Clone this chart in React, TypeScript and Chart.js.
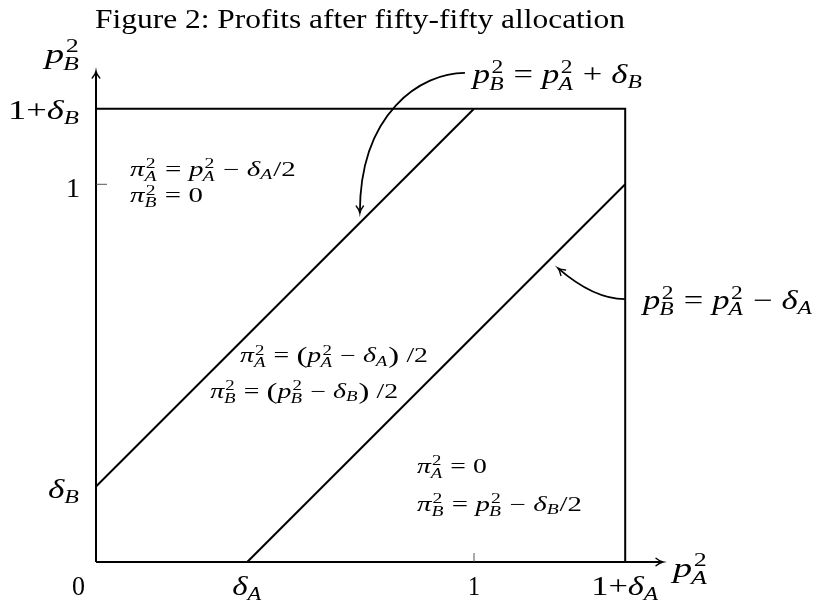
import React, { useEffect, useRef } from "react";
import { Chart, registerables } from "chart.js";

Chart.register(...registerables);

// ---------------- data ----------------
const chartTitle = "Figure 2: Profits after fifty-fifty allocation";
const xAxisMax = 1.5;
const yAxisMax = 1.3;
// p_B = p_A + delta_B  (delta_B = 0.2)
const upperLineX = [0, 1.0];
const upperLineY = [0.2, 1.2];
// p_B = p_A - delta_A  (delta_A = 0.4)
const lowerLineX = [0.4, 1.4];
const lowerLineY = [0, 1.0];
// feasible box: top edge at 1+delta_B, right edge at 1+delta_A
const boxX = [0, 1.4, 1.4];
const boxY = [1.2, 1.2, 0];
const xTickValues = [0, 0.4, 1, 1.4];
const xTickLabels = ["0", "\\delta_A", "1", "1+\\delta_A"];
const yTickValues = [0.2, 1, 1.2];
const yTickLabels = ["\\delta_B", "1", "1+\\delta_B"];
const tickMarkValues = [1];
const xAxisTitle = "p^2_A";
const yAxisTitle = "p^2_B";
const upperLineLabel = "p^2_B = p^2_A + \\delta_B";
const lowerLineLabel = "p^2_B = p^2_A - \\delta_A";
const regionTopLeft = ["\\pi^2_A = p^2_A - \\delta_A/2", "\\pi^2_B = 0"];
const regionMiddle = ["\\pi^2_A = (p^2_A - \\delta_A) /2", "\\pi^2_B = (p^2_B - \\delta_B) /2"];
const regionBottomRight = ["\\pi^2_A = 0", "\\pi^2_B = p^2_B - \\delta_B/2"];

// ---------------- text helpers ----------------
const FONT = '"Liberation Serif", "Times New Roman", serif';
const GREEK: Record<string, string> = { pi: "\u03c0", delta: "\u03b4" };

type Atom = { t: string; it: boolean; sup?: string; sub?: string; gap?: number; big?: boolean };

function parseMath(src: string): Atom[] {
  const out: Atom[] = [];
  let i = 0;
  const readCmd = (): string => {
    let j = i + 1;
    while (j < src.length && /[a-zA-Z]/.test(src[j])) j++;
    const name = src.slice(i + 1, j);
    i = j;
    return GREEK[name] ?? name;
  };
  const readArg = (): string => {
    if (src[i] === "{") {
      const j = src.indexOf("}", i);
      const s = src.slice(i + 1, j);
      i = j + 1;
      return s;
    }
    if (src[i] === "\\") return readCmd();
    return src[i++];
  };
  while (i < src.length) {
    const c = src[i];
    if (c === " ") {
      out.push({ t: "", it: false, gap: 0.26 });
      i++;
    } else if (c === "^" || c === "_") {
      i++;
      const a = readArg();
      const last = out[out.length - 1];
      if (c === "^") last.sup = a;
      else last.sub = a;
    } else if (c === "\\") {
      out.push({ t: readCmd(), it: true });
    } else if (/[a-zA-Z]/.test(c)) {
      out.push({ t: c, it: true });
      i++;
    } else if (c === "(" || c === ")") {
      out.push({ t: c, it: false, big: true });
      i++;
    } else {
      out.push({ t: c === "-" ? "\u2212" : c, it: false });
      i++;
    }
  }
  return out;
}

function fontStr(size: number, it: boolean) {
  return `${it ? "italic " : ""}${size}px ${FONT}`;
}

type Item = { text: string; font: string; x: number; dy: number };

function layoutMath(ctx: CanvasRenderingContext2D, atoms: Atom[], size: number) {
  let x = 0;
  const items: Item[] = [];
  for (const a of atoms) {
    if (a.gap) {
      x += a.gap * size;
      continue;
    }
    const sz = a.big ? size * 1.18 : size;
    const f = fontStr(sz, a.it);
    ctx.font = f;
    const w = ctx.measureText(a.t).width;
    items.push({ text: a.t, font: f, x, dy: a.big ? 0.04 * size : 0 });
    x += w;
    if (a.sup || a.sub) {
      const ss = size * 0.68;
      const both = !!(a.sup && a.sub);
      let sw = 0;
      if (a.sup) {
        const f2 = fontStr(ss, /[a-zA-Z]/.test(a.sup));
        ctx.font = f2;
        const w2 = ctx.measureText(a.sup).width;
        const off = a.it ? 0.04 * size : 0;
        items.push({ text: a.sup, font: f2, x: x + off, dy: -0.38 * size });
        sw = Math.max(sw, w2 + off);
      }
      if (a.sub) {
        const f3 = fontStr(ss, /[a-zA-Z]/.test(a.sub));
        ctx.font = f3;
        const w3 = ctx.measureText(a.sub).width;
        const off = a.t === "p" ? -0.03 * size : 0;
        items.push({ text: a.sub, font: f3, x: x + off, dy: (both ? 0.24 : 0.17) * size });
        sw = Math.max(sw, w3 + off);
      }
      x += sw + 0.03 * size;
    }
  }
  return { items, width: x };
}

function drawMath(
  ctx: CanvasRenderingContext2D,
  src: string,
  x: number,
  y: number,
  size: number,
  align: "left" | "center" | "right",
  fitW?: number,
  plain = false
) {
  const atoms: Atom[] = plain ? [{ t: src, it: false }] : parseMath(src);
  const { items, width } = layoutMath(ctx, atoms, size);
  const sx = fitW ? Math.max(0.7, Math.min(1.45, fitW / width)) : 1;
  const W = width * sx;
  const x0 = align === "left" ? x : align === "right" ? x - W : x - W / 2;
  ctx.save();
  ctx.translate(x0, y);
  ctx.scale(sx, 1);
  ctx.fillStyle = "#000";
  ctx.textAlign = "left";
  ctx.textBaseline = "alphabetic";
  for (const it of items) {
    ctx.font = it.font;
    ctx.fillText(it.text, it.x, it.dy);
  }
  ctx.restore();
}

function arrowHead(ctx: CanvasRenderingContext2D, tx: number, ty: number, ang: number, len = 7, half = 3.8) {
  const c = Math.cos(ang);
  const s = Math.sin(ang);
  const nx = -s;
  const ny = c;
  const bx = tx - len * c;
  const by = ty - len * s;
  ctx.save();
  ctx.lineWidth = 1.4;
  ctx.lineCap = "round";
  ctx.beginPath();
  ctx.moveTo(bx + half * nx, by + half * ny);
  ctx.quadraticCurveTo(tx - len * 0.45 * c + half * 0.15 * nx, ty - len * 0.45 * s + half * 0.15 * ny, tx, ty);
  ctx.quadraticCurveTo(tx - len * 0.45 * c - half * 0.15 * nx, ty - len * 0.45 * s - half * 0.15 * ny, bx - half * nx, by - half * ny);
  ctx.stroke();
  ctx.restore();
}

// ---------------- overlay plugin ----------------
const overlay = {
  id: "figureOverlay",
  afterDraw(chart: any) {
    const ctx: CanvasRenderingContext2D = chart.ctx;
    const xs = chart.scales.x;
    const ys = chart.scales.y;
    const P = (u: number, v: number): [number, number] => [xs.getPixelForValue(u), ys.getPixelForValue(v)];
    const [ox, oy] = P(0, 0);
    const [xe] = P(xAxisMax, 0);
    const [, ye] = P(0, yAxisMax);

    ctx.save();
    ctx.strokeStyle = "#000";
    ctx.fillStyle = "#000";

    // axes
    ctx.lineWidth = 2;
    ctx.beginPath();
    ctx.moveTo(ox, oy);
    ctx.lineTo(xe - 1, oy);
    ctx.moveTo(ox, oy);
    ctx.lineTo(ox, ye + 1);
    ctx.stroke();
    arrowHead(ctx, xe, oy, 0);
    arrowHead(ctx, ox, ye, -Math.PI / 2);

    // tick marks
    ctx.lineWidth = 0.9;
    ctx.strokeStyle = "#444";
    for (const v of tickMarkValues) {
      const [tx] = P(v, 0);
      ctx.beginPath();
      ctx.moveTo(tx, oy);
      ctx.lineTo(tx, oy - 9);
      ctx.stroke();
      const [, ty] = P(0, v);
      ctx.beginPath();
      ctx.moveTo(ox, ty);
      ctx.lineTo(ox + 11, ty);
      ctx.stroke();
    }
    ctx.strokeStyle = "#000";

    // tick labels
    const xAlign: ("left" | "center" | "right")[] = ["right", "center", "center", "center"];
    const xDx = [-11, 0, 0, 0];
    const xFit = [13, 30, 12, 68];
    xTickValues.forEach((v, i) => {
      const [tx] = P(v, 0);
      drawMath(ctx, xTickLabels[i], tx + xDx[i], oy + 33, 28, xAlign[i], xFit[i]);
    });
    const yDy = [12, 13, 10];
    const yFit = [32, undefined, 72];
    yTickValues.forEach((v, i) => {
      const [, ty] = P(0, v);
      drawMath(ctx, yTickLabels[i], ox - 16, ty + yDy[i], 28, "right", yFit[i]);
    });

    // axis titles
    drawMath(ctx, yAxisTitle, ox - 51, ye - 8, 28, "left", 35);
    drawMath(ctx, xAxisTitle, xe + 10, oy + 15, 28, "left", 35);

    // title
    drawMath(ctx, chartTitle, 95, 28, 28, "left", 530, true);

    // region annotations
    const ann = 20;
    let [ax, ay] = P(0.09, 1.022);
    drawMath(ctx, regionTopLeft[0], ax, ay, ann, "left", 167);
    [ax, ay] = P(0.09, 0.952);
    drawMath(ctx, regionTopLeft[1], ax, ay, ann, "left", 73);
    [ax, ay] = P(0.381, 0.529);
    drawMath(ctx, regionMiddle[0], ax, ay, ann, "left", 188);
    [ax, ay] = P(0.302, 0.434);
    drawMath(ctx, regionMiddle[1], ax, ay, ann, "left", 188);
    [ax, ay] = P(0.849, 0.236);
    drawMath(ctx, regionBottomRight[0], ax, ay, ann, "left", 70);
    [ax, ay] = P(0.849, 0.135);
    drawMath(ctx, regionBottomRight[1], ax, ay, ann, "left", 165);

    // callouts
    const callout = (pts: [number, number][], label: string, lx: number, ly: number) => {
      const [s, c1, c2, e] = pts.map(([u, v]) => P(u, v));
      ctx.lineWidth = 1.8;
      ctx.beginPath();
      ctx.moveTo(s[0], s[1]);
      ctx.bezierCurveTo(c1[0], c1[1], c2[0], c2[1], e[0], e[1]);
      ctx.stroke();
      arrowHead(ctx, e[0], e[1], Math.atan2(e[1] - c2[1], e[0] - c2[0]), 7, 3.6);
      const [tx, ty] = P(lx, ly);
      drawMath(ctx, label, tx, ty, 27, "left", 170);
    };
    callout([[0.976, 1.295], [0.86, 1.295], [0.698, 1.19], [0.698, 0.924]], upperLineLabel, 0.997, 1.268);
    callout([[1.399, 0.696], [1.333, 0.696], [1.267, 0.739], [1.222, 0.778]], lowerLineLabel, 1.447, 0.67);

    ctx.restore();
  },
};

const toPoints = (xs: number[], ys: number[]) => xs.map((x, i) => ({ x, y: ys[i] }));

const lineStyle = {
  showLine: true,
  pointRadius: 0,
  borderColor: "#000",
  borderWidth: 2,
  fill: false,
  tension: 0,
  clip: false as any,
};

export default function App() {
  const ref = useRef<HTMLCanvasElement | null>(null);
  useEffect(() => {
    if (!ref.current) return;
    const chart = new Chart(ref.current, {
      type: "scatter",
      data: {
        datasets: [
          { label: "upper", data: toPoints(upperLineX, upperLineY), ...lineStyle },
          { label: "lower", data: toPoints(lowerLineX, lowerLineY), ...lineStyle },
          { label: "box", data: toPoints(boxX, boxY), ...lineStyle },
        ],
      },
      options: {
        animation: false,
        responsive: true,
        maintainAspectRatio: false,
        events: [],
        layout: { padding: { left: 96, right: 154, top: 71, bottom: 45 } },
        plugins: { legend: { display: false }, tooltip: { enabled: false }, title: { display: false } },
        scales: {
          x: { type: "linear", min: 0, max: xAxisMax, display: false },
          y: { type: "linear", min: 0, max: yAxisMax, display: false },
        },
      },
      plugins: [overlay],
    });
    return () => chart.destroy();
  }, []);
  return (
    <div style={{ position: "fixed", left: 0, top: 0, width: 817, height: 607, background: "#fff" }}>
      <canvas ref={ref} />
    </div>
  );
}
